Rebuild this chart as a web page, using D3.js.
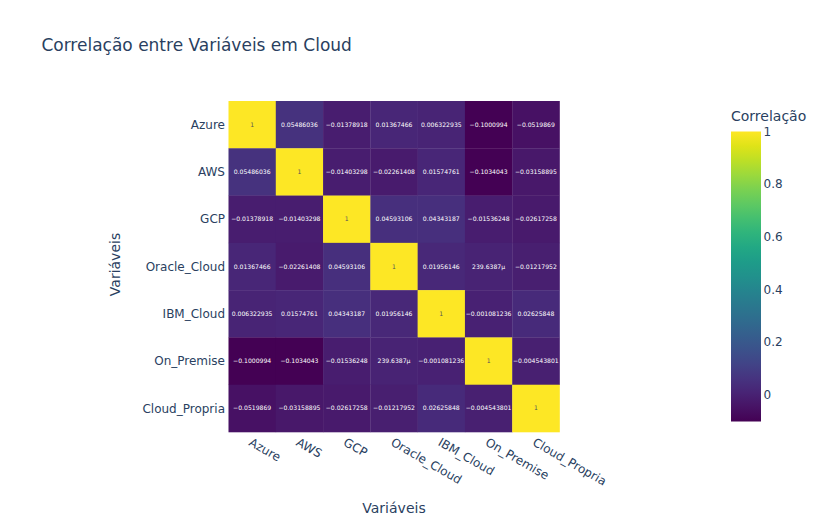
<!DOCTYPE html>
<html>
<head>
<meta charset="utf-8">
<script src="https://cdn.jsdelivr.net/npm/d3@7"></script>
<style>
html,body{margin:0;padding:0;background:#fff;}
svg{display:block;font-family:"DejaVu Sans",verdana,arial,sans-serif;}
</style>
</head>
<body>
<svg id="chart" width="828" height="525"></svg>
<script>
const variables = ["Azure","AWS","GCP","Oracle_Cloud","IBM_Cloud","On_Premise","Cloud_Propria"];
const rowAzure        = [1, 0.05486036, -0.01378918, 0.01367466, 0.006322935, -0.1000994, -0.0519869];
const rowAWS          = [0.05486036, 1, -0.01403298, -0.02261408, 0.01574761, -0.1034043, -0.03158895];
const rowGCP          = [-0.01378918, -0.01403298, 1, 0.04593106, 0.04343187, -0.01536248, -0.02617258];
const rowOracle       = [0.01367466, -0.02261408, 0.04593106, 1, 0.01956146, 0.0002396387, -0.01217952];
const rowIBM          = [0.006322935, 0.01574761, 0.04343187, 0.01956146, 1, -0.001081236, 0.02625848];
const rowOnPremise    = [-0.1000994, -0.1034043, -0.01536248, 0.0002396387, -0.001081236, 1, -0.004543801];
const rowCloudPropria = [-0.0519869, -0.03158895, -0.02617258, -0.01217952, 0.02625848, -0.004543801, 1];
const colorbarTicks = [0, 0.2, 0.4, 0.6, 0.8, 1];

const titleText = "Correlação entre Variáveis em Cloud";
const xTitle = "Variáveis", yTitle = "Variáveis", cbTitle = "Correlação";

const matrix = [rowAzure,rowAWS,rowGCP,rowOracle,rowIBM,rowOnPremise,rowCloudPropria];
const cells = [];
matrix.forEach((row,i)=>row.forEach((v,j)=>cells.push({r:variables[i],c:variables[j],v})));

const svg = d3.select("#chart");
const textColor = "#2a3f5f";
const plot = {x0:228.5, x1:559.5, y0:101, y1:432};

const x = d3.scaleBand().domain(variables).range([plot.x0, plot.x1]);
const y = d3.scaleBand().domain(variables).range([plot.y0, plot.y1]);
const allV = cells.map(d=>d.v);
const vmin = d3.min(allV), vmax = d3.max(allV);
const color = d3.scaleSequential(d3.interpolateViridis).domain([vmin, vmax]);

function fmt(v){
  if (v !== 0 && Math.abs(v) < 1e-3) return d3.format(".7~s")(v);
  return d3.format(".7~g")(v);
}

// title
svg.append("text").attr("x",41.4).attr("y",51).attr("font-size",17).attr("fill",textColor).text(titleText);

// cells
const g = svg.append("g");
g.selectAll("rect").data(cells).join("rect")
  .attr("x",d=>x(d.c)).attr("y",d=>y(d.r))
  .attr("width",x.bandwidth()+0.3).attr("height",y.bandwidth()+0.3)
  .attr("fill",d=>color(d.v));
g.selectAll("text").data(cells).join("text")
  .attr("x",d=>x(d.c)+x.bandwidth()/2).attr("y",d=>y(d.r)+y.bandwidth()/2)
  .attr("text-anchor","middle").attr("dy","0.35em")
  .attr("font-size",6.1)
  .attr("fill",d=>d.v>0.5?"#555":"#fff")
  .text(d=>fmt(d.v));

// y axis labels
svg.append("g").selectAll("text").data(variables).join("text")
  .attr("x",plot.x0-3.5).attr("y",d=>y(d)+y.bandwidth()/2)
  .attr("text-anchor","end").attr("dy","0.35em")
  .attr("font-size",12).attr("fill",textColor).text(d=>d);

// x axis labels rotated
svg.append("g").selectAll("text").data(variables).join("text")
  .attr("transform",d=>`translate(${x(d)+x.bandwidth()/2-2},${plot.y1+9}) rotate(30)`)
  .attr("text-anchor","start").attr("dy","0.35em")
  .attr("font-size",12).attr("fill",textColor).text(d=>d);

// axis titles
svg.append("text").attr("x",(plot.x0+plot.x1)/2).attr("y",513)
  .attr("text-anchor","middle").attr("font-size",14).attr("fill",textColor).text(xTitle);
svg.append("text").attr("transform",`translate(120,${(plot.y0+plot.y1)/2-2}) rotate(-90)`)
  .attr("text-anchor","middle").attr("font-size",14).attr("fill",textColor).text(yTitle);

// colorbar
const cb = {x:731, w:30, y0:131.5, y1:421.5};
const cy = d3.scaleLinear().domain([vmin, vmax]).range([cb.y1, cb.y0]);
const defs = svg.append("defs");
const grad = defs.append("linearGradient").attr("id","cbgrad")
  .attr("x1","0").attr("y1","1").attr("x2","0").attr("y2","0");
d3.range(0,1.0001,0.05).forEach(t=>{
  grad.append("stop").attr("offset",t).attr("stop-color",d3.interpolateViridis(t));
});
svg.append("rect").attr("x",cb.x).attr("y",cb.y0).attr("width",cb.w).attr("height",cb.y1-cb.y0)
  .attr("fill","url(#cbgrad)");
const cbAxis = d3.axisRight(cy).tickValues(colorbarTicks).tickSize(0).tickPadding(2.5)
  .tickFormat(d3.format("~g"));
const cbg = svg.append("g").attr("transform",`translate(${cb.x+cb.w},0)`).call(cbAxis);
cbg.select(".domain").remove();
cbg.selectAll("text").attr("font-size",12).attr("fill",textColor).attr("font-family","'DejaVu Sans',verdana,arial,sans-serif");
svg.append("text").attr("x",cb.x).attr("y",120.5).attr("font-size",14).attr("fill",textColor).text(cbTitle);
</script>
</body>
</html>
